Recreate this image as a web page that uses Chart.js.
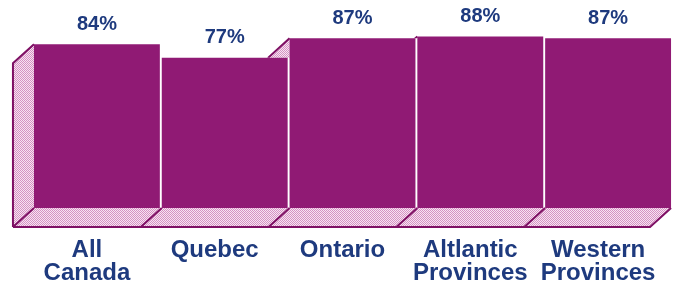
<!DOCTYPE html>
<html lang="en">
<head>
<meta charset="UTF-8">
<title>Regional share</title>
<script src="https://cdn.jsdelivr.net/npm/chart.js"></script>
<style>
  html, body { margin: 0; padding: 0; background: #fff; }
  #wrap { width: 679px; height: 291px; }
</style>
</head>
<body>
<div id="wrap"><canvas id="chart"></canvas></div>
<script>
var categories = [['All', 'Canada'], 'Quebec', 'Ontario', ['Altlantic', 'Provinces'], ['Western', 'Provinces']];
var values = [84, 77, 87, 88, 87];
var valueLabels = ['84%', '77%', '87%', '88%', '87%'];

var barColor = '#901a74';
var edgeColor = '#7e1064';
var textColor = '#1e3a7e';
var depthX = -21, depthY = 19;

// halftone-ish pink used on the walls and floor
function dotPattern(ctx) {
    var c = document.createElement('canvas');
    c.width = 2; c.height = 2;
    var g = c.getContext('2d');
    g.fillStyle = '#f7e4f2';
    g.fillRect(0, 0, 2, 2);
    g.fillStyle = '#d592c3';
    g.fillRect(0, 0, 1, 1);
    g.fillRect(1, 1, 1, 1);
    return ctx.createPattern(c, 'repeat');
}

var box3d = {
    id: 'box3d',
    beforeDatasetsDraw: function(chart) {
        var ctx = chart.ctx;
        var bars = chart.getDatasetMeta(0).data;
        var pink = dotPattern(ctx);
        var props = bars.map(function(b) { return b.getProps(['x', 'y', 'base', 'width'], true); });
        ctx.save();

        // left walls, only the part that sticks out above the previous bar
        props.forEach(function(p, i) {
            var x0 = p.x - p.width / 2;
            ctx.save();
            if (i > 0) {
                ctx.beginPath();
                ctx.rect(0, 0, chart.width, props[i - 1].y);
                ctx.clip();
            }
            ctx.beginPath();
            ctx.moveTo(x0, p.y);
            ctx.lineTo(x0 + depthX, p.y + depthY);
            ctx.lineTo(x0 + depthX, p.base + depthY);
            ctx.lineTo(x0, p.base);
            ctx.closePath();
            ctx.fillStyle = pink;
            ctx.fill();
            ctx.strokeStyle = edgeColor;
            ctx.lineWidth = 2;
            ctx.beginPath();
            ctx.moveTo(x0, p.y);
            ctx.lineTo(x0 + depthX, p.y + depthY);
            ctx.lineTo(x0 + depthX, p.base + depthY);
            ctx.stroke();
            ctx.restore();
        });

        // floor
        var first = props[0], last = props[props.length - 1];
        var left = first.x - first.width / 2;
        var right = last.x + last.width / 2;
        var base = first.base;
        ctx.beginPath();
        ctx.moveTo(left, base);
        ctx.lineTo(right, base);
        ctx.lineTo(right + depthX, base + depthY);
        ctx.lineTo(left + depthX, base + depthY);
        ctx.closePath();
        ctx.fillStyle = pink;
        ctx.fill();

        ctx.strokeStyle = edgeColor;
        ctx.lineWidth = 2;
        props.forEach(function(p) {
            var x0 = p.x - p.width / 2;
            ctx.beginPath();
            ctx.moveTo(x0, base);
            ctx.lineTo(x0 + depthX, base + depthY);
            ctx.stroke();
        });
        ctx.beginPath();
        ctx.moveTo(left + depthX, base + depthY);
        ctx.lineTo(right + depthX, base + depthY);
        ctx.lineTo(right, base);
        ctx.stroke();
        ctx.restore();
    },
    afterDatasetsDraw: function(chart) {
        var ctx = chart.ctx;
        ctx.save();
        ctx.fillStyle = textColor;
        ctx.font = 'bold 20px "Liberation Sans", Arial, sans-serif';
        ctx.textAlign = 'center';
        ctx.textBaseline = 'middle';
        chart.getDatasetMeta(0).data.forEach(function(bar, i) {
            ctx.fillText(valueLabels[i], bar.x, bar.y - 20);
        });
        ctx.restore();
    }
};

var ctx = document.getElementById('chart').getContext('2d');
var myChart = new Chart(ctx, {
    type: 'bar',
    data: {
        labels: categories,
        datasets: [{
            data: values,
            backgroundColor: barColor,
            borderWidth: 0,
            barPercentage: 0.985,
            categoryPercentage: 1
        }]
    },
    options: {
        responsive: true,
        maintainAspectRatio: false,
        animation: false,
        devicePixelRatio: 1,
        layout: { padding: { left: 33, right: 7, top: 13, bottom: 0 } },
        plugins: {
            legend: { display: false },
            tooltip: { enabled: false }
        },
        scales: {
            x: {
                grid: { display: false, drawTicks: false },
                border: { display: false },
                afterFit: function(scale) {
                    scale.paddingLeft = 0;
                    scale.paddingRight = 0;
                    scale.height = 83;
                },
                ticks: {
                    color: textColor,
                    font: { family: '"Liberation Sans", Arial, sans-serif', size: 24, weight: 'bold', lineHeight: 0.96 },
                    padding: 31,
                    labelOffset: -10,
                    maxRotation: 0,
                    autoSkip: false
                }
            },
            y: { display: false, min: 0, max: 100 }
        }
    },
    plugins: [box3d]
});
</script>
</body>
</html>
